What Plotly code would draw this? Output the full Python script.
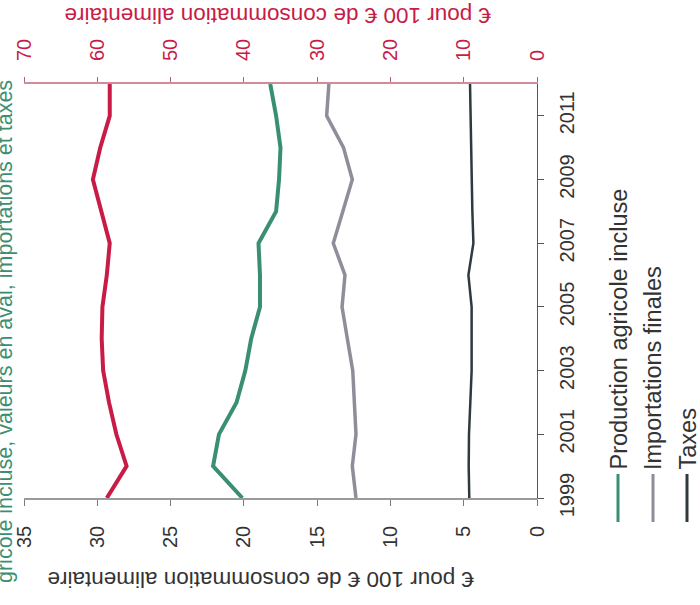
import plotly.graph_objects as go

# Years (vertical axis, drawn on the right)
years = list(range(1999, 2013))
year_ticks = [1999, 2001, 2003, 2005, 2007, 2009, 2011]

# Valeur ajoutée aval (echelle 0-70, axe du haut)
aval = [58.7, 56.0, 57.4, 58.4, 59.2, 59.4, 59.3, 58.7, 58.3, 59.5, 60.6, 59.6, 58.3, 58.3]
# Echelle 0-35 (axe du bas)
production = [20.1, 22.1, 21.7, 20.5, 19.9, 19.5, 18.9, 18.9, 19.0, 17.8, 17.6, 17.5, 17.8, 18.2]
importations = [12.35, 12.6, 12.35, 12.46, 12.57, 12.94, 13.3, 13.1, 13.9, 13.25, 12.6, 13.2, 14.35, 14.2]
taxes = [4.62, 4.66, 4.64, 4.55, 4.46, 4.46, 4.46, 4.68, 4.34, 4.41, 4.46, 4.48, 4.52, 4.57]

bottom_ticks = [0, 5, 10, 15, 20, 25, 30, 35]
top_ticks = [0, 10, 20, 30, 40, 50, 60, 70]

legend_labels = ["Production agricole incluse", "Importations finales", "Taxes"]
side_title = "gricole incluse, valeurs en aval, importations et taxes"
axis_title = "€ pour 100 € de consommation alimentaire"

RED = "#c81c46"
GREEN = "#3a8f73"
GREY = "#8f8d99"
DARK = "#2e3a3d"
TEXT = "#333333"
FONT = "Liberation Sans"

W, H = 700, 605
L, R, T, B = 24, 163, 84, 107
PW, PH = W - L - R, H - T - B


def px(x):
    return (x - L) / PW


def py(y):
    return (H - B - y) / PH


fig = go.Figure()
fig.add_trace(go.Scatter(x=aval, y=years, xaxis="x2", yaxis="y", mode="lines",
                         line=dict(color=RED, width=4), showlegend=False))
fig.add_trace(go.Scatter(x=production, y=years, mode="lines",
                         line=dict(color=GREEN, width=4), showlegend=False))
fig.add_trace(go.Scatter(x=importations, y=years, mode="lines",
                         line=dict(color=GREY, width=3.5), showlegend=False))
fig.add_trace(go.Scatter(x=taxes, y=years, mode="lines",
                         line=dict(color=DARK, width=2.5), showlegend=False))

fig.update_layout(
    width=W, height=H,
    margin=dict(l=L, r=R, t=T, b=B, pad=0),
    paper_bgcolor="white", plot_bgcolor="white",
    font=dict(family=FONT, size=19, color=TEXT),
    xaxis=dict(range=[35, 0], tickvals=bottom_ticks, tickangle=-90,
               showgrid=False, zeroline=False, showline=True, linecolor="#9a9a9a",
               linewidth=1.5, ticks="outside", ticklen=6, tickcolor="#7a7a7a",
               ticklabelstandoff=12, tickfont=dict(size=20, color=TEXT)),
    xaxis2=dict(range=[70, 0], overlaying="x", side="top", tickvals=top_ticks,
                tickangle=-90, showgrid=False, zeroline=False, showline=True,
                linecolor="#d58a9c", linewidth=2, ticks="outside", ticklen=5,
                tickcolor="#b06070", ticklabelstandoff=12,
                tickfont=dict(size=20, color=RED)),
    yaxis=dict(range=[1999, 2012], side="right", tickvals=year_ticks, tickangle=-90,
               showgrid=False, zeroline=False, showline=True, linecolor="#555555",
               linewidth=1.2, ticks="outside", ticklen=6, tickcolor="#555555",
               ticklabelstandoff=6, tickfont=dict(size=20, color=TEXT)),
)

annotations = [
    dict(text=axis_title, x=px(261), y=py(580),
         textangle=180, font=dict(size=22.5, color=TEXT)),
    dict(text=axis_title, x=px(278), y=py(15),
         textangle=180, font=dict(size=22.5, color=RED)),
    dict(text=side_title, x=px(5), y=py(332), textangle=-90,
         font=dict(size=21.5, color=GREEN)),
]

legend_colors = [GREEN, GREY, DARK]
legend_x = [618, 653, 687]
shapes = []
for label, color, lx in zip(legend_labels, legend_colors, legend_x):
    shapes.append(dict(type="line", xref="paper", yref="paper",
                       x0=px(lx), x1=px(lx), y0=py(474), y1=py(522),
                       line=dict(color=color, width=3)))
    annotations.append(dict(text=label, x=px(lx), y=py(472), textangle=-90,
                            font=dict(size=23.5, color=TEXT)))

for a in annotations:
    a.update(xref="paper", yref="paper", showarrow=False)
    a.setdefault("xanchor", "center")
    a.setdefault("yanchor", "middle")

# legend labels start just above their swatch
for a in annotations[3:]:
    a["yanchor"] = "bottom"

fig.update_layout(annotations=annotations, shapes=shapes)

fig.write_html("out.html")
